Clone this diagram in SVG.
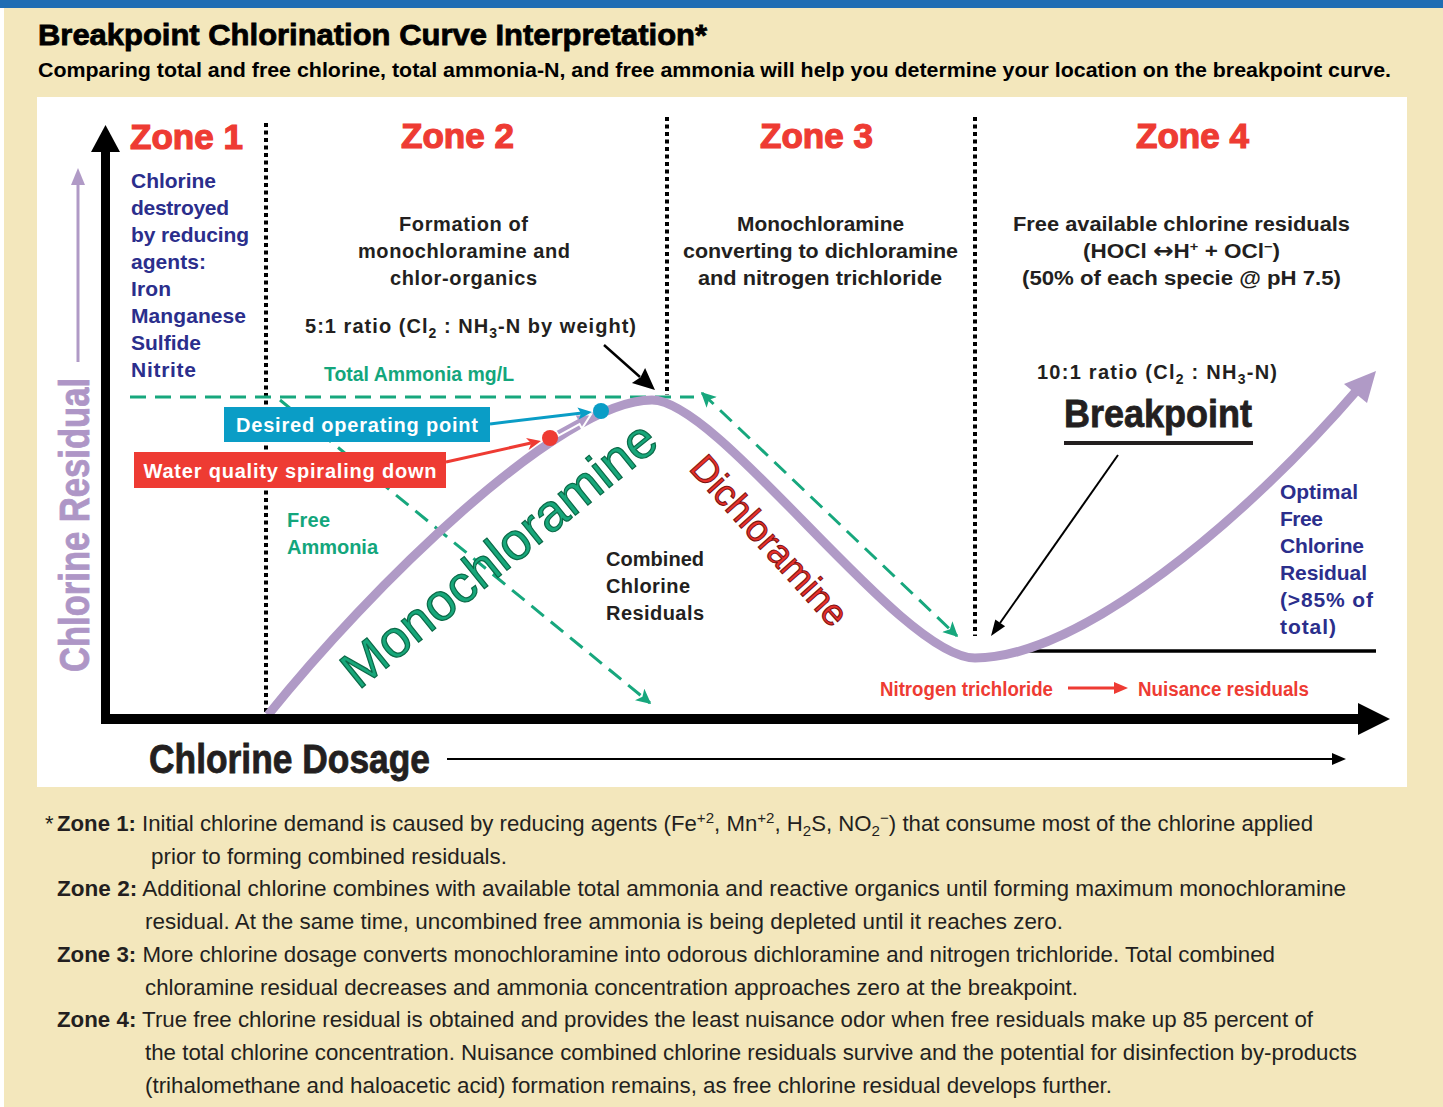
<svg xmlns="http://www.w3.org/2000/svg" width="1443" height="1107" viewBox="0 0 1443 1107">
<defs>
<style>
.f{font-family:"Liberation Sans",Arial,sans-serif}
.b{font-family:"Liberation Sans",Arial,sans-serif;font-weight:bold}
.zone{font-family:"Liberation Sans",Arial,sans-serif;font-weight:bold;font-size:35px;fill:#EE3B33;stroke:#EE3B33;stroke-width:1.2}
.desc{font-family:"Liberation Sans",Arial,sans-serif;font-weight:bold;font-size:20px;fill:#231F20}
.navy{font-family:"Liberation Sans",Arial,sans-serif;font-weight:bold;font-size:21px;fill:#2B2E8C}
.grn{font-family:"Liberation Sans",Arial,sans-serif;font-weight:bold;font-size:20px;fill:#13A67C}
.red{font-family:"Liberation Sans",Arial,sans-serif;font-weight:bold;font-size:20px;fill:#EE3B33}
.foot{font-family:"Liberation Sans",Arial,sans-serif;font-size:22px;fill:#231F20}
.dot{stroke:#000;stroke-width:4;stroke-dasharray:4 3.5;fill:none}
.dash{stroke:#17A77D;stroke-width:3;stroke-dasharray:16 9;fill:none}
.heavy{stroke-width:0.8}
</style>
<marker id="ga" viewBox="0 0 10 10" refX="9" refY="5" markerWidth="5" markerHeight="5" orient="auto-start-reverse" markerUnits="strokeWidth">
<path d="M0,0 L10,5 L0,10 L2.5,5 z" fill="#17A77D"/>
</marker>
</defs>
<rect x="0" y="0" width="1443" height="1107" fill="#ffffff"/>
<rect x="4" y="0" width="1439" height="1107" fill="#F3E7BC"/>
<rect x="0" y="0" width="1443" height="8" fill="#1F6DB3"/>

<g id="title">
<text class="b heavy" x="38" y="45" font-size="30" fill="#000" stroke="#000" textLength="669" lengthAdjust="spacingAndGlyphs">Breakpoint Chlorination Curve Interpretation*</text>
<text class="b" x="38" y="77" font-size="20" fill="#000" textLength="1353" lengthAdjust="spacingAndGlyphs">Comparing total and free chlorine, total ammonia-N, and free ammonia will help you determine your location on the breakpoint curve.</text>
</g>

<rect id="panel" x="37" y="97" width="1370" height="690" fill="#ffffff"/>

<g id="dividers">
<line class="dot" x1="266" y1="123" x2="266" y2="715"/>
<line class="dot" x1="667" y1="117" x2="667" y2="395"/>
<line class="dot" x1="975" y1="117" x2="975" y2="636"/>
</g>

<g id="connectors">
<line class="dash" x1="130" y1="397" x2="694" y2="397"/>
<line class="dash" x1="280" y1="400" x2="650" y2="703" marker-end="url(#ga)"/>
<line class="dash" x1="702" y1="393" x2="957" y2="636" marker-start="url(#ga)" marker-end="url(#ga)"/>
<line x1="1010" y1="651" x2="1376" y2="651" stroke="#000" stroke-width="3.5"/>
<path d="M268,715 C368,590 560,400 652,400 C720,400 900,658 975,658 C1080,658 1245,520 1358,389" fill="none" stroke="#B09AC6" stroke-width="9"/>
<polygon points="1376,371 1344,384 1367,403" fill="#B09AC6"/>
<polygon points="555.5,430.4 576.5,418.9 574.1,414.5 591.1,414.2 581.9,428.5 579.5,424.1 558.5,435.6" fill="#B09AC6" stroke="#fff" stroke-width="2"/>
<line x1="604" y1="345" x2="640" y2="377" stroke="#000" stroke-width="2.5"/>
<polygon points="655,390 631.9,382.9 640.5,377.2 645.1,367.9" fill="#000"/>
<line x1="1118" y1="455" x2="1000" y2="623" stroke="#000" stroke-width="2"/>
<polygon points="991,636 1005.1,626.3 995.3,619.5" fill="#000"/>
<line x1="490" y1="424" x2="582" y2="413" stroke="#0A9DC6" stroke-width="3"/>
<polygon points="592,412 577.4,407.6 581,413.3 578.8,419.6" fill="#0A9DC6"/>
<line x1="446" y1="462" x2="531" y2="443" stroke="#EE3B33" stroke-width="3"/>
<polygon points="541,441 526,438.1 531.2,443.2 528.6,449.9" fill="#EE3B33"/>
<line x1="1068" y1="688" x2="1118" y2="688" stroke="#EE3B33" stroke-width="3"/>
<polygon points="1114,682 1128,688 1114,694" fill="#EE3B33"/>
<line x1="447" y1="759" x2="1336" y2="759" stroke="#000" stroke-width="2"/>
<polygon points="1332,753 1346,759 1332,765" fill="#000"/>
<line x1="78" y1="362" x2="78" y2="183" stroke="#B09AC6" stroke-width="3"/>
<polygon points="78,168 71,185 85,185" fill="#B09AC6"/>
</g>

<g id="points">
<circle cx="601" cy="411" r="8" fill="#0A9DC6"/>
<circle cx="550" cy="438" r="8" fill="#EE3B33"/>
</g>

<g id="zone1">
<text class="zone" x="130" y="149" textLength="113" lengthAdjust="spacingAndGlyphs">Zone 1</text>
<text class="navy" x="131" y="188" textLength="85">Chlorine</text>
<text class="navy" x="131" y="215" textLength="98">destroyed</text>
<text class="navy" x="131" y="242" textLength="118">by reducing</text>
<text class="navy" x="131" y="269" textLength="75">agents:</text>
<text class="navy" x="131" y="296" textLength="40">Iron</text>
<text class="navy" x="131" y="323" textLength="115">Manganese</text>
<text class="navy" x="131" y="350" textLength="70">Sulfide</text>
<text class="navy" x="131" y="377" textLength="65">Nitrite</text>
</g>

<g id="zone2">
<text class="zone" x="401" y="148" textLength="113" lengthAdjust="spacingAndGlyphs">Zone 2</text>
<text class="desc" x="399" y="231" textLength="129">Formation of</text>
<text class="desc" x="358" y="258" textLength="212">monochloramine and</text>
<text class="desc" x="390" y="285" textLength="147">chlor-organics</text>
<text class="desc" x="305" y="333" textLength="331">5:1 ratio (Cl<tspan dy="5" font-size="14">2</tspan><tspan dy="-5"> : NH</tspan><tspan dy="5" font-size="14">3</tspan><tspan dy="-5">-N by weight)</tspan></text>
<text class="grn" x="324" y="381" textLength="190" lengthAdjust="spacingAndGlyphs">Total Ammonia mg/L</text>
<text class="grn" x="287" y="527" textLength="43">Free</text>
<text class="grn" x="287" y="554" textLength="91">Ammonia</text>
<text class="desc" x="606" y="566" textLength="98">Combined</text>
<text class="desc" x="606" y="593" textLength="84">Chlorine</text>
<text class="desc" x="606" y="620" textLength="98">Residuals</text>
<text class="f" transform="translate(510,568) rotate(-39)" x="0" y="0" text-anchor="middle" font-size="52" fill="#17A77A" stroke="#0B6A48" stroke-width="1.2" textLength="389" lengthAdjust="spacingAndGlyphs">Monochloramine</text>
</g>

<g id="box-desired">
<rect x="224" y="407" width="266" height="35" fill="#0A9DC6"/>
<text class="b" x="357" y="432" text-anchor="middle" font-size="20" fill="#fff" textLength="242">Desired operating point</text>
</g>
<g id="box-water">
<rect x="134" y="452" width="312" height="36" fill="#EE3B33"/>
<text class="b" x="290" y="478" text-anchor="middle" font-size="20" fill="#fff" textLength="293">Water quality spiraling down</text>
</g>

<g id="zone3">
<text class="zone" x="760" y="148" textLength="113" lengthAdjust="spacingAndGlyphs">Zone 3</text>
<text class="desc" x="737" y="231" textLength="167" lengthAdjust="spacingAndGlyphs">Monochloramine</text>
<text class="desc" x="683" y="258" textLength="275" lengthAdjust="spacingAndGlyphs">converting to dichloramine</text>
<text class="desc" x="698" y="285" textLength="244" lengthAdjust="spacingAndGlyphs">and nitrogen trichloride</text>
<text class="f" transform="translate(760,549) rotate(48)" x="0" y="0" text-anchor="middle" font-size="37" fill="#E8302A" stroke="#7A1010" stroke-width="1" textLength="215" lengthAdjust="spacingAndGlyphs">Dichloramine</text>
<text class="red" x="880" y="696" textLength="173" lengthAdjust="spacingAndGlyphs">Nitrogen trichloride</text>
</g>

<g id="zone4">
<text class="zone" x="1136" y="148" textLength="113" lengthAdjust="spacingAndGlyphs">Zone 4</text>
<text class="desc" x="1013" y="231" textLength="337" lengthAdjust="spacingAndGlyphs">Free available chlorine residuals</text>
<text class="desc" x="1083" y="258" textLength="197" lengthAdjust="spacingAndGlyphs">(HOCl <tspan font-family="DejaVu Sans" font-size="22">↔</tspan>H<tspan dy="-7" font-size="13">+</tspan><tspan dy="7"> + OCl</tspan><tspan dy="-7" font-size="13">−</tspan><tspan dy="7">)</tspan></text>
<text class="desc" x="1022" y="285" textLength="319" lengthAdjust="spacingAndGlyphs">(50% of each specie @ pH 7.5)</text>
<text class="desc" x="1037" y="379" textLength="240">10:1 ratio (Cl<tspan dy="5" font-size="14">2</tspan><tspan dy="-5"> : NH</tspan><tspan dy="5" font-size="14">3</tspan><tspan dy="-5">-N)</tspan></text>
<text class="b heavy" x="1064" y="427" font-size="39" fill="#231F20" stroke="#231F20" textLength="188" lengthAdjust="spacingAndGlyphs">Breakpoint</text>
<line x1="1064" y1="443" x2="1253" y2="443" stroke="#231F20" stroke-width="4"/>
<text class="navy" x="1280" y="499" textLength="78">Optimal</text>
<text class="navy" x="1280" y="526" textLength="43">Free</text>
<text class="navy" x="1280" y="553" textLength="84">Chlorine</text>
<text class="navy" x="1280" y="580" textLength="87">Residual</text>
<text class="navy" x="1280" y="607" textLength="93">(&gt;85% of</text>
<text class="navy" x="1280" y="634" textLength="56">total)</text>
<text class="red" x="1138" y="696" textLength="171" lengthAdjust="spacingAndGlyphs">Nuisance residuals</text>
</g>

<g id="axes">
<rect x="101" y="150" width="9" height="574" fill="#000"/>
<polygon points="105.5,125 91,152 120,152" fill="#000"/>
<rect x="101" y="714" width="1262" height="10" fill="#000"/>
<polygon points="1358,703 1390,719 1358,735" fill="#000"/>
<text class="b heavy" transform="translate(89,672) rotate(-90)" x="0" y="0" font-size="42" fill="#AE96C6" stroke="#AE96C6" textLength="294" lengthAdjust="spacingAndGlyphs">Chlorine Residual</text>
<text class="b heavy" x="149" y="773" font-size="40" fill="#231F20" stroke="#231F20" textLength="281" lengthAdjust="spacingAndGlyphs">Chlorine Dosage</text>
</g>

<g id="footnotes">
<text class="foot" x="45" y="831" font-size="20">*</text>
<text class="foot" x="57" y="831" textLength="1256" lengthAdjust="spacingAndGlyphs"><tspan font-weight="bold">Zone 1:</tspan> Initial chlorine demand is caused by reducing agents (Fe<tspan dy="-8" font-size="15">+2</tspan><tspan dy="8">, Mn</tspan><tspan dy="-8" font-size="15">+2</tspan><tspan dy="8">, H</tspan><tspan dy="5" font-size="15">2</tspan><tspan dy="-5">S, NO</tspan><tspan dy="5" font-size="15">2</tspan><tspan dy="-13" font-size="15">−</tspan><tspan dy="8">) that consume most of the chlorine applied</tspan></text>
<text class="foot" x="151" y="864" textLength="356" lengthAdjust="spacingAndGlyphs">prior to forming combined residuals.</text>
<text class="foot" x="57" y="896" textLength="1289" lengthAdjust="spacingAndGlyphs"><tspan font-weight="bold">Zone 2:</tspan> Additional chlorine combines with available total ammonia and reactive organics until forming maximum monochloramine</text>
<text class="foot" x="145" y="929" textLength="918" lengthAdjust="spacingAndGlyphs">residual. At the same time, uncombined free ammonia is being depleted until it reaches zero.</text>
<text class="foot" x="57" y="962" textLength="1218" lengthAdjust="spacingAndGlyphs"><tspan font-weight="bold">Zone 3:</tspan> More chlorine dosage converts monochloramine into odorous dichloramine and nitrogen trichloride. Total combined</text>
<text class="foot" x="145" y="995" textLength="933" lengthAdjust="spacingAndGlyphs">chloramine residual decreases and ammonia concentration approaches zero at the breakpoint.</text>
<text class="foot" x="57" y="1027" textLength="1256" lengthAdjust="spacingAndGlyphs"><tspan font-weight="bold">Zone 4:</tspan> True free chlorine residual is obtained and provides the least nuisance odor when free residuals make up 85 percent of</text>
<text class="foot" x="145" y="1060" textLength="1212" lengthAdjust="spacingAndGlyphs">the total chlorine concentration. Nuisance combined chlorine residuals survive and the potential for disinfection by-products</text>
<text class="foot" x="145" y="1093" textLength="967" lengthAdjust="spacingAndGlyphs">(trihalomethane and haloacetic acid) formation remains, as free chlorine residual develops further.</text>
</g>
</svg>
